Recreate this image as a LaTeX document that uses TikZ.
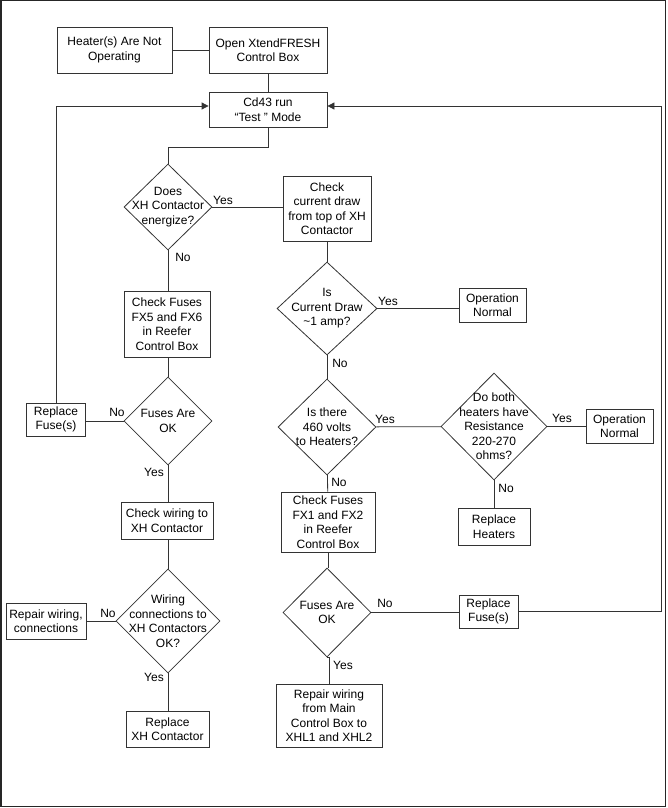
\documentclass[tikz,border=0pt]{standalone}
\usepackage{fontspec}
\setmainfont{Liberation Sans}
\usetikzlibrary{shapes.geometric,arrows.meta}
\begin{document}
\begin{tikzpicture}[x=1pt,y=-1pt,
  line/.style={draw=black!80,line width=0.8pt},
  box/.style={line,rectangle,inner sep=0pt,align=center,font=\fontsize{12}{14.5}\selectfont},
  dia/.style={line,diamond,inner sep=0pt},
  dtext/.style={align=center,inner sep=0pt,font=\fontsize{12}{14.5}\selectfont},
  lbl/.style={inner sep=0pt,font=\fontsize{12}{14.5}\selectfont},
  arr/.style={line,-{Triangle[length=7pt,width=7pt]}}]
\useasboundingbox (0,0) rectangle (667,808);
\draw[line width=1.5pt,black!85] (0.75,0.75) rectangle (665.5,806.5);
% boxes
\node[box,minimum width=115pt,minimum height=46pt] (heat) at (114.5,50) {Heater(s) Are Not\\Operating};
\node[box,minimum width=118pt,minimum height=46pt] (open) at (268,50) {Open XtendFRESH\\Control Box};
\node[box,minimum width=118pt,minimum height=35pt] (cd43) at (268,109.5) {Cd43 run\\``Test '' Mode};
\node[box,minimum width=88pt,minimum height=65pt] (chk1) at (327,208.5) {Check\\current draw\\from top of XH\\Contactor};
\node[box,minimum width=67pt,minimum height=34pt] (on1) at (492.5,305) {Operation\\Normal};
\node[box,minimum width=86pt,minimum height=66pt] (fx5) at (167,324) {Check Fuses\\FX5 and FX6\\in Reefer\\Control Box};
\node[box,minimum width=59pt,minimum height=33pt] (rf1) at (56,419.5) {Replace\\Fuse(s)};
\node[box,minimum width=92pt,minimum height=37pt] (cw) at (167,520.5) {Check wiring to\\XH Contactor};
\node[box,minimum width=80pt,minimum height=36pt] (rwc) at (46,621) {Repair wiring,\\connections};
\node[box,minimum width=83pt,minimum height=36pt] (rxh) at (167.5,729) {Replace\\XH Contactor};
\node[box,minimum width=94pt,minimum height=60pt] (fx1) at (328,522) {Check Fuses\\FX1 and FX2\\in Reefer\\Control Box};
\node[box,minimum width=72pt,minimum height=37pt] (rh) at (494,526.5) {Replace\\Heaters};
\node[box,minimum width=67pt,minimum height=34pt] (on2) at (619.5,426) {Operation\\Normal};
\node[box,minimum width=59pt,minimum height=33pt] (rf2) at (488.5,611.5) {Replace\\Fuse(s)};
\node[box,minimum width=106pt,minimum height=63pt] (rwm) at (329,715.5) {Repair wiring\\from Main\\Control Box to\\XHL1 and XHL2};
% diamonds
\node[dia,minimum width=88pt,minimum height=86pt] (d1) at (168,207) {};
\node[dtext] at (d1) {Does\\XH Contactor\\energize?};
\node[dia,minimum width=100pt,minimum height=93pt] (d2) at (327,308.5) {};
\node[dtext] at (d2) {Is\\Current Draw\\\textasciitilde1 amp?};
\node[dia,minimum width=88pt,minimum height=88pt] (d3) at (168,421) {};
\node[dtext] at (d3) {Fuses Are\\OK};
\node[dia,minimum width=98pt,minimum height=96pt] (d4) at (327,427) {};
\node[dtext] at (d4) {Is there\\460 volts\\to Heaters?};
\node[dia,minimum width=106pt,minimum height=107pt] (d5) at (494,426.5) {};
\node[dtext] at (d5) {Do both\\heaters have\\Resistance\\220-270\\ohms?};
\node[dia,minimum width=88pt,minimum height=89pt] (d6) at (327,612.5) {};
\node[dtext] at (d6) {Fuses Are\\OK};
\node[dia,minimum width=104pt,minimum height=104pt] (d7) at (168,621) {};
\node[dtext] at (d7) {Wiring\\connections to\\XH Contactors\\OK?};
% labels
\node[lbl] (y1) at (223,200) {Yes};
\node[lbl] (n1) at (183,257) {No};
\node[lbl] (y2) at (388,301) {Yes};
\node[lbl] (n2) at (340,363) {No};
\node[lbl] (n3) at (117,412) {No};
\node[lbl] (y3) at (154,472) {Yes};
\node[lbl] (y4) at (385,419) {Yes};
\node[lbl] (n4) at (339,482) {No};
\node[lbl] (y5) at (562,418) {Yes};
\node[lbl] (n5) at (506,488) {No};
\node[lbl] (n6) at (385,603) {No};
\node[lbl] (y6) at (343,665) {Yes};
\node[lbl] (n7) at (108,613) {No};
\node[lbl] (y7) at (154,677) {Yes};
% coordinates
\coordinate (j1) at (268,147);
\coordinate (ll) at (56,106);
\coordinate (rr) at (661,106);
% connectors
\draw[line] (heat) -- (open);
\draw[line] (open) -- (cd43);
\draw[line] (cd43.south) -- (j1) -| (d1.north);
\draw[line] (d1.east) -- (d1.east -| chk1.west);
\draw[line] (chk1) -- (d2);
\draw[line] (d2.east) -- (d2.east -| on1.west);
\draw[line] (d2) -- (d4);
\draw[line] (d4) -- (d5);
\draw[line] (d5.east) -- (d5.east -| on2.west);
\draw[line] (d5) -- (rh);
\draw[line] (d4) -- (fx1);
\draw[line] (fx1.south) -- (fx1.south |- d6.north);
\draw[line] (d6.east) -- (d6.east -| rf2.west);
\draw[arr] (rf2.east) -| (rr) -- (rr -| cd43.east);
\draw[line] (d6.south) -- (d6.south -| rwm.north) -- (rwm.north);
\draw[line] (d1.south) -- (d1.south |- fx5.north);
\draw[line] (fx5.south -| d3.north) -- (d3.north);
\draw[line] (d3.west) -- (d3.west -| rf1.east);
\draw[arr] (rf1.north) -- (ll) -- (ll -| cd43.west);
\draw[line] (d3.south) -- (d3.south |- cw.north);
\draw[line] (cw.south -| d7.north) -- (d7.north);
\draw[line] (d7.west) -- (d7.west -| rwc.east);
\draw[line] (d7.south) -- (d7.south |- rxh.north);
\end{tikzpicture}
\end{document}
